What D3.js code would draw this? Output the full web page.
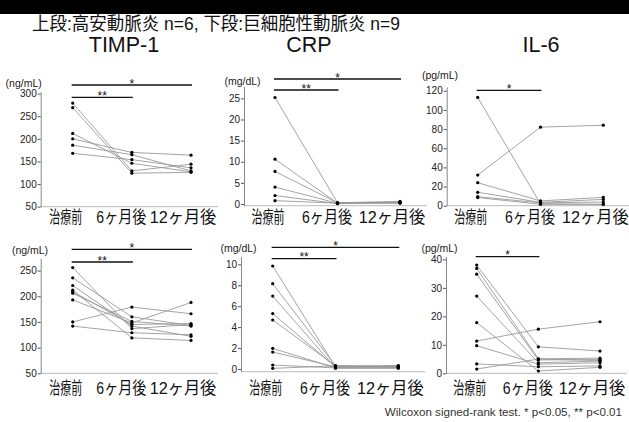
<!DOCTYPE html>
<html>
<head>
<meta charset="utf-8">
<script src="https://cdn.jsdelivr.net/npm/d3@7"></script>
<style>
  body { margin: 0; background: #fff; }
  svg { display: block; }
</style>
</head>
<body>
<div id="chart"></div>
<script>
const categories = ["治療前", "6ヶ月後", "12ヶ月後"];
const titles = ["TIMP-1", "CRP", "IL-6"];
const units = ["(ng/mL)", "(mg/dL)", "(pg/mL)"];
const heading = "上段:高安動脈炎 n=6, 下段:巨細胞性動脈炎 n=9";
const footnote = "Wilcoxon signed-rank test. * p<0.05, ** p<0.01";

// 高安動脈炎 n=6, one row per patient: [治療前, 6ヶ月後, 12ヶ月後]
const timpTak = [
    [279, 129, 144], [269, 124, 126], [212, 146, 127],
    [200, 170, 164], [186, 165, 129], [168, 154, 136]
];
const crpTak = [
    [25.2, 0.3, 0.5], [10.6, 0.2, 0.3], [7.7, 0.3, 0.6],
    [4.0, 0.2, 0.2], [2.0, 0.1, 0.3], [0.8, 0.2, 0.4]
];
const il6Tak = [
    [113, 2.0, 1.4], [32, 82, 84], [24, 5, 8.7],
    [14, 3.5, 6.6], [9.4, 3, 3.8], [8.5, 1.5, 1.4]
];

// 巨細胞性動脈炎 n=9
const timpGca = [
    [256, 137, 145], [236, 160, 143], [221, 142, 122],
    [212, 119, 114], [209, 145, 147], [206, 151, 142],
    [193, 148, 188], [150, 179, 166], [142, 129, 125]
];
const crpGca = [
    [9.84, 0.2, 0.3], [8.15, 0.3, 0.2], [6.97, 0.1, 0.1],
    [5.29, 0.2, 0.3], [4.68, 0.3, 0.2], [1.97, 0.1, 0.1],
    [1.62, 0.2, 0.2], [0.38, 0.1, 0.1], [0.06, 0.3, 0.3]
];
const il6Gca = [
    [38, 9.3, 7.8], [36.8, 5.1, 5.3], [34.8, 4.7, 4.8],
    [27.1, 3.7, 4.3], [17.8, 0.8, 2.1], [11.3, 15.5, 18.1],
    [9.7, 3.2, 3.7], [3.3, 2.3, 2.6], [1.5, 5.0, 4.5]
];

// tick labels
const timpTicksTak = [50, 100, 150, 200, 250, 300];
const crpTicksTak = [0, 5, 10, 15, 20, 25];
const il6TicksTak = [0, 20, 40, 60, 80, 100, 120];
const timpTicksGca = [50, 100, 150, 200, 250];
const crpTicksGca = [0, 2, 4, 6, 8, 10];
const il6TicksGca = [0, 10, 20, 30, 40];

// significance bars: [from, to, mark]
const sigTimp = [[0, 2, "*"], [0, 1, "**"]];
const sigCrp = [[0, 2, "*"], [0, 1, "**"]];
const sigIl6 = [[0, 1, "*"]];

const width = 629, height = 422;
const latin = "'Liberation Sans', Arial, 'Noto Sans CJK JP', sans-serif";

// layout of the six panels
const panels = [
    { data: timpTak, ticks: timpTicksTak, unit: units[0], sig: sigTimp,
      axisX: 40.7, cats: [72.7, 191], domain: [50, 304], range: [206.7, 91.8],
      unitPos: [23.7, 87], sigY: [85, 97.3], labelY: 223 },
    { data: crpTak, ticks: crpTicksTak, unit: units[1], sig: sigCrp,
      axisX: 244, cats: [275, 400], domain: [-0.4, 27.8], range: [205.7, 86.5],
      unitPos: [242.5, 84.5], sigY: [79, 90], labelY: 223 },
    { data: il6Tak, ticks: il6TicksTak, unit: units[2], sig: sigIl6,
      axisX: 446.7, cats: [477.7, 603.3], domain: [0, 124], range: [205.7, 86.9],
      unitPos: [440, 78.5], sigY: [90.3], labelY: 223 },
    { data: timpGca, ticks: timpTicksGca, unit: units[0], sig: sigTimp,
      axisX: 40.7, cats: [72.7, 191], domain: [50, 274], range: [373.3, 258.3],
      unitPos: [30, 253.5], sigY: [249.3, 262], labelY: 394 },
    { data: crpGca, ticks: crpTicksGca, unit: units[1], sig: sigCrp,
      axisX: 241, cats: [272.7, 398.3], domain: [-0.26, 10.73], range: [371.7, 256.7],
      unitPos: [238.5, 251.5], sigY: [247.3, 258.7], labelY: 394 },
    { data: il6Gca, ticks: il6TicksGca, unit: units[2], sig: sigIl6,
      axisX: 446, cats: [476.7, 600], domain: [0, 41], range: [373.3, 256.5],
      unitPos: [439.5, 251.5], sigY: [256.7], labelY: 394 }
];

// category labels are drawn a little left of the dots and condensed
const labelShift = [-7, -10.5, -8];
const labelWidth = [33, 50, 66.7];
const titleX = [124, 309, 541];

const svg = d3.select("#chart").append("svg")
    .attr("width", width)
    .attr("height", height)
    .attr("viewBox", [0, 0, width, height]);

svg.append("rect")
    .attr("width", width)
    .attr("height", 14)
    .attr("fill", "#000");

svg.append("text")
    .attr("x", 32)
    .attr("y", 29.5)
    .attr("font-family", latin)
    .attr("font-size", 18)
    .attr("textLength", 368)
    .attr("lengthAdjust", "spacingAndGlyphs")
    .attr("fill", "#111")
    .text(heading);

svg.selectAll(".title")
    .data(titles)
    .join("text")
    .attr("class", "title")
    .attr("x", (d, i) => titleX[i])
    .attr("y", 51.5)
    .attr("text-anchor", "middle")
    .attr("font-family", latin)
    .attr("font-size", 21.5)
    .attr("fill", "#111")
    .text(d => d);

panels.forEach(p => {
    const g = svg.append("g");

    const x = d3.scalePoint().domain(categories).range(p.cats);
    const y = d3.scaleLinear().domain(p.domain).range(p.range);

    // x axis: a faint base line only
    g.append("line")
        .attr("x1", p.axisX)
        .attr("x2", p.cats[1] + 27)
        .attr("y1", p.range[0])
        .attr("y2", p.range[0])
        .attr("stroke", "#bbb")
        .attr("stroke-width", 1);

    // y axis
    const yAxis = g.append("g")
        .attr("transform", `translate(${p.axisX},0)`)
        .call(d3.axisLeft(y).tickValues(p.ticks).tickSize(3).tickSizeOuter(0).tickPadding(1));
    yAxis.select(".domain").attr("stroke", "#888");
    yAxis.selectAll(".tick line").attr("stroke", "#555");
    yAxis.selectAll(".tick text")
        .attr("font-family", latin)
        .attr("font-size", 10)
        .attr("fill", "#222");

    g.append("text")
        .attr("x", p.unitPos[0])
        .attr("y", p.unitPos[1])
        .attr("text-anchor", "middle")
        .attr("font-family", latin)
        .attr("font-size", 10.5)
        .attr("fill", "#222")
        .text(p.unit);

    // patient lines
    const line = d3.line()
        .x((d, i) => x(categories[i]))
        .y(d => y(d));

    g.append("g")
        .selectAll("path")
        .data(p.data)
        .join("path")
        .attr("d", line)
        .attr("fill", "none")
        .attr("stroke", "#9a9a9a")
        .attr("stroke-width", 0.9);

    // dots
    g.append("g")
        .selectAll("circle")
        .data(p.data.flatMap(row => row.map((v, i) => [i, v])))
        .join("circle")
        .attr("cx", d => x(categories[d[0]]))
        .attr("cy", d => y(d[1]))
        .attr("r", 1.6)
        .attr("fill", "#000");

    // significance bars
    p.sig.forEach((s, k) => {
        const x1 = x(categories[s[0]]) - 1;
        const x2 = x(categories[s[1]]) + 1;
        g.append("line")
            .attr("x1", x1)
            .attr("x2", x2)
            .attr("y1", p.sigY[k])
            .attr("y2", p.sigY[k])
            .attr("stroke", "#111")
            .attr("stroke-width", 1.3);
        g.append("text")
            .attr("x", (x1 + x2) / 2)
            .attr("y", p.sigY[k] + 2.5)
            .attr("text-anchor", "middle")
            .attr("font-family", latin)
            .attr("font-size", 12)
            .attr("fill", "#111")
            .text(s[2]);
    });

    // category labels
    g.selectAll(".cat")
        .data(categories)
        .join("text")
        .attr("class", "cat")
        .attr("x", (d, i) => x(d) + labelShift[i])
        .attr("y", p.labelY)
        .attr("text-anchor", "middle")
        .attr("font-family", latin)
        .attr("font-size", 16.5)
        .attr("textLength", (d, i) => labelWidth[i])
        .attr("lengthAdjust", "spacingAndGlyphs")
        .attr("fill", "#111")
        .text(d => d);
});

svg.append("text")
    .attr("x", 622)
    .attr("y", 416)
    .attr("text-anchor", "end")
    .attr("font-family", latin)
    .attr("font-size", 11.6)
    .attr("fill", "#333")
    .text(footnote);
</script>
</body>
</html>
